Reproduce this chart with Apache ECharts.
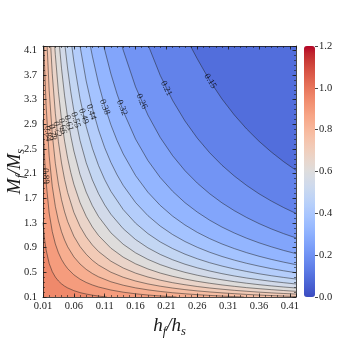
<!DOCTYPE html>
<html>
<head>
<meta charset="utf-8">
<script src="https://cdn.jsdelivr.net/npm/echarts@6/dist/echarts.min.js"></script>
<style>
  html, body { margin: 0; padding: 0; background: #fff; }
  #chart { width: 356px; height: 356px; }
</style>
</head>
<body>
<div id="chart"></div>
<script>
// contour levels (from the inline labels) and the value range at the low end
const levels = [0.15, 0.2071, 0.2642, 0.3213, 0.3784, 0.4355, 0.4926, 0.5497, 0.6068, 0.6639, 0.7210, 0.7781, 0.8352, 0.8923, 0.9494];
const zLow = 0.0929;
const labelTexts = ['0.15', '0.21', '0.26', '0.32', '0.38', '0.44', '0.49', '0.55', '0.61', '0.66', '0.72', '0.78', '0.84', '0.89'];

const xTickLabels = ['0.01', '0.06', '0.11', '0.16', '0.21', '0.26', '0.31', '0.36', '0.41'];
const yTickLabels = ['0.1', '0.5', '0.9', '1.3', '1.7', '2.1', '2.5', '2.9', '3.3', '3.7', '4.1'];
const cbarTickLabels = ['0.0', '0.2', '0.4', '0.6', '0.8', '1.0', '1.2'];

// contour lines, [h_f/h_s, M_f/M_s]
const c015 = [[0.249, 4.17], [0.26, 3.962], [0.28, 3.611], [0.30, 3.312], [0.32, 3.052], [0.34, 2.825], [0.36, 2.626], [0.38, 2.451], [0.40, 2.294], [0.42, 2.154]];
const c021 = [[0.181, 4.17], [0.20, 3.693], [0.22, 3.288], [0.24, 2.955], [0.26, 2.676], [0.28, 2.44], [0.30, 2.237], [0.32, 2.062], [0.34, 1.909], [0.36, 1.774], [0.38, 1.656], [0.40, 1.55], [0.42, 1.455]];
const c026 = [[0.138, 4.17], [0.14, 4.103], [0.16, 3.507], [0.18, 3.05], [0.20, 2.686], [0.22, 2.392], [0.24, 2.149], [0.26, 1.947], [0.28, 1.775], [0.30, 1.627], [0.32, 1.5], [0.34, 1.389], [0.36, 1.291], [0.38, 1.204], [0.40, 1.127], [0.42, 1.058]];
const c032 = [[0.1085, 4.17], [0.11, 4.108], [0.12, 3.719], [0.13, 3.391], [0.14, 3.112], [0.16, 2.66], [0.18, 2.313], [0.20, 2.037], [0.22, 1.814], [0.24, 1.63], [0.26, 1.477], [0.28, 1.346], [0.30, 1.234], [0.32, 1.138], [0.34, 1.053], [0.36, 0.979], [0.38, 0.914], [0.40, 0.855], [0.42, 0.803]];
const c038 = [[0.0867, 4.17], [0.09, 4.006], [0.10, 3.559], [0.11, 3.195], [0.12, 2.892], [0.13, 2.637], [0.14, 2.42], [0.16, 2.069], [0.18, 1.799], [0.20, 1.585], [0.22, 1.411], [0.24, 1.268], [0.26, 1.148], [0.28, 1.047], [0.30, 0.96], [0.32, 0.885], [0.34, 0.819], [0.36, 0.761], [0.38, 0.71], [0.40, 0.665], [0.42, 0.624]];
const c044 = [[0.07, 4.17], [0.08, 3.603], [0.09, 3.16], [0.10, 2.808], [0.11, 2.52], [0.12, 2.282], [0.13, 2.081], [0.14, 1.909], [0.16, 1.632], [0.18, 1.419], [0.20, 1.25], [0.22, 1.113], [0.24, 1.0], [0.26, 0.906], [0.28, 0.826], [0.30, 0.757], [0.32, 0.698], [0.34, 0.646], [0.36, 0.601], [0.38, 0.56], [0.40, 0.525], [0.42, 0.493]];
const c049 = [[0.0567, 4.17], [0.06, 3.924], [0.07, 3.317], [0.08, 2.863], [0.09, 2.512], [0.10, 2.231], [0.11, 2.003], [0.12, 1.813], [0.14, 1.517], [0.16, 1.297], [0.18, 1.128], [0.20, 0.993], [0.22, 0.885], [0.24, 0.795], [0.26, 0.72], [0.28, 0.656], [0.30, 0.602], [0.32, 0.555], [0.34, 0.514], [0.36, 0.477], [0.38, 0.445], [0.40, 0.417], [0.42, 0.391]];
const c055 = [[0.0457, 4.17], [0.05, 3.798], [0.055, 3.428], [0.06, 3.121], [0.07, 2.638], [0.08, 2.277], [0.09, 1.998], [0.10, 1.775], [0.11, 1.593], [0.12, 1.442], [0.14, 1.207], [0.16, 1.032], [0.18, 0.897], [0.20, 0.79], [0.22, 0.704], [0.24, 0.632], [0.26, 0.573], [0.28, 0.522], [0.30, 0.479], [0.32, 0.441], [0.34, 0.408], [0.36, 0.38], [0.38, 0.354], [0.40, 0.332], [0.42, 0.311]];
const c061 = [[0.0367, 4.17], [0.04, 3.81], [0.045, 3.362], [0.05, 3.004], [0.055, 2.712], [0.06, 2.468], [0.07, 2.087], [0.08, 1.801], [0.09, 1.58], [0.10, 1.404], [0.12, 1.141], [0.14, 0.955], [0.16, 0.816], [0.18, 0.71], [0.20, 0.625], [0.22, 0.557], [0.24, 0.5], [0.26, 0.453], [0.28, 0.413], [0.30, 0.379], [0.32, 0.349], [0.34, 0.323], [0.36, 0.3], [0.38, 0.28], [0.40, 0.262], [0.42, 0.246]];
const c066 = [[0.029, 4.17], [0.03, 4.029], [0.035, 3.428], [0.04, 2.977], [0.045, 2.627], [0.05, 2.347], [0.055, 2.119], [0.06, 1.929], [0.07, 1.631], [0.08, 1.408], [0.09, 1.235], [0.10, 1.097], [0.12, 0.892], [0.14, 0.746], [0.16, 0.638], [0.18, 0.555], [0.20, 0.488], [0.22, 0.435], [0.24, 0.391], [0.26, 0.354], [0.28, 0.323], [0.30, 0.296], [0.32, 0.273], [0.34, 0.252], [0.36, 0.235], [0.38, 0.219], [0.40, 0.205], [0.42, 0.192]];
const c072 = [[0.0225, 4.17], [0.025, 3.721], [0.03, 3.078], [0.035, 2.618], [0.04, 2.274], [0.045, 2.007], [0.05, 1.793], [0.06, 1.473], [0.07, 1.245], [0.08, 1.075], [0.09, 0.943], [0.10, 0.838], [0.12, 0.681], [0.14, 0.57], [0.16, 0.487], [0.18, 0.424], [0.20, 0.373], [0.22, 0.332], [0.24, 0.299], [0.26, 0.27], [0.28, 0.246], [0.30, 0.226], [0.32, 0.208], [0.34, 0.193], [0.36, 0.179], [0.38, 0.167], [0.40, 0.157], [0.42, 0.147]];
const c078 = [[0.0167, 4.17], [0.02, 3.454], [0.025, 2.743], [0.03, 2.269], [0.035, 1.931], [0.04, 1.677], [0.045, 1.48], [0.05, 1.322], [0.06, 1.086], [0.07, 0.918], [0.08, 0.793], [0.09, 0.695], [0.10, 0.618], [0.12, 0.502], [0.14, 0.42], [0.16, 0.359], [0.18, 0.312], [0.20, 0.275], [0.22, 0.245], [0.24, 0.22], [0.26, 0.199], [0.28, 0.182], [0.30, 0.167], [0.32, 0.154], [0.34, 0.142], [0.36, 0.132], [0.38, 0.123], [0.40, 0.115], [0.42, 0.108]];
const c084 = [[0.0116, 4.17], [0.0125, 3.867], [0.015, 3.21], [0.02, 2.389], [0.025, 1.897], [0.03, 1.569], [0.035, 1.335], [0.04, 1.159], [0.045, 1.023], [0.05, 0.914], [0.06, 0.751], [0.07, 0.635], [0.08, 0.548], [0.09, 0.481], [0.10, 0.427], [0.12, 0.347], [0.14, 0.291], [0.16, 0.248], [0.18, 0.216], [0.20, 0.19], [0.22, 0.169], [0.24, 0.152], [0.26, 0.138], [0.28, 0.126], [0.30, 0.115], [0.32, 0.106], [0.3355, 0.1]];
const c089 = [[0.01, 2.972], [0.0125, 2.369], [0.015, 1.966], [0.02, 1.463], [0.025, 1.162], [0.03, 0.961], [0.035, 0.818], [0.04, 0.71], [0.045, 0.627], [0.05, 0.56], [0.06, 0.46], [0.07, 0.389], [0.08, 0.336], [0.09, 0.295], [0.10, 0.262], [0.12, 0.213], [0.14, 0.178], [0.16, 0.152], [0.18, 0.132], [0.20, 0.117], [0.22, 0.104], [0.2265, 0.1]];
const c095 = [[0.01, 1.309], [0.0125, 1.043], [0.015, 0.866], [0.02, 0.644], [0.025, 0.512], [0.03, 0.423], [0.035, 0.36], [0.04, 0.313], [0.045, 0.276], [0.05, 0.247], [0.06, 0.203], [0.07, 0.171], [0.08, 0.148], [0.09, 0.13], [0.10, 0.115], [0.1135, 0.1]];

const contours = [c015, c021, c026, c032, c038, c044, c049, c055, c061, c066, c072, c078, c084, c089, c095];

// matplotlib "coolwarm"
const coolwarm = ['#3b4cc0', '#445acc', '#4d68d7', '#5775e1', '#6282ea', '#6c8ef1', '#779af7', '#82a5fb', '#8db0fe', '#98b9ff', '#a3c2ff', '#aec9fd', '#b8d0f9', '#c2d5f4', '#ccd9ee', '#d5dbe6', '#dddddd', '#e5d8d1', '#ecd3c5', '#f1ccb9', '#f5c4ad', '#f7bba0', '#f7b194', '#f7a687', '#f49a7b', '#f18d6f', '#ec7f63', '#e57058', '#de604d', '#d55042', '#cb3e38', '#c0282f', '#b40426'];

const X0 = 0.01, X1 = 0.42, Y0 = 0.1, Y1 = 4.17;
const font = "'Liberation Serif', 'Times New Roman', serif";
const ink = '#1a1a1a';

// band i lies above levels[i]; band -1 is everything below the first level.
// each band is coloured by its lower bound
const bands = [[-1, zLow]].concat(levels.map((v, i) => [i, v]));

// where the inline labels sit on their lines
const labelAnchors = [
  [0.281, 3.60, -58], [0.21, 3.48, -64], [0.17, 3.27, -66], [0.138, 3.17, -68], [0.11, 3.18, -70],
  [0.088, 3.10, -72], [0.076, 3.03, -72], [0.063, 2.97, -74], [0.0515, 2.92, -76], [0.0415, 2.87, -78],
  [0.033, 2.82, -80], [0.0248, 2.77, -82], [0.0178, 2.75, -86], [0.0144, 2.06, -88]
];

function tickFmt (start, step, labels) {
  return function (v) {
    const k = Math.round((v - start) / step);
    if (Math.abs(v - (start + k * step)) > 1e-6) return '';
    return labels[k] !== undefined ? labels[k] : '';
  };
}

const frameLine = { show: true, onZero: false, lineStyle: { color: ink, width: 0.8 } };
const noLine = { show: false, onZero: false };
const majorTick = { show: true, inside: true, length: 3.5, lineStyle: { color: ink, width: 0.8 } };
const minorTick = { show: true, inside: true, length: 2, lineStyle: { color: ink, width: 0.6 } };

function axis (o) {
  return Object.assign({
    type: 'value', gridIndex: 0, z: 5,
    axisLine: noLine, axisTick: majorTick,
    axisLabel: { show: false }, splitLine: { show: false }
  }, o);
}

const mathRich = {
  i: { fontFamily: font, fontStyle: 'italic', fontSize: 19, color: ink, lineHeight: 24, verticalAlign: 'middle' },
  s: { fontFamily: font, fontStyle: 'italic', fontSize: 12.5, color: ink, verticalAlign: 'bottom' }
};

const chart = echarts.init(document.getElementById('chart'));

const series = [{
  type: 'custom',
  xAxisIndex: 0,
  yAxisIndex: 0,
  data: bands,
  clip: true,
  silent: true,
  z: 1,
  renderItem: function (params, api) {
    const idx = api.value(0);
    let pts;
    if (idx < 0) {
      pts = [[X0, Y1], [X1, Y1], [X1, Y0], [X0, Y0]];
    } else {
      pts = contours[idx].concat([[X1, Y0], [X0, Y0], [X0, Y1]]);
    }
    return {
      type: 'polygon',
      shape: { points: pts.map(p => api.coord(p)) },
      style: { fill: api.visual('color') }
    };
  }
}];

contours.forEach(function (c) {
  series.push({
    type: 'line',
    data: c,
    showSymbol: false,
    symbol: 'none',
    silent: true,
    clip: true,
    z: 3,
    lineStyle: { color: '#222', width: 0.6, opacity: 0.85 }
  });
});

series.push({
  type: 'scatter',
  silent: true,
  z: 4,
  symbolSize: 1,
  itemStyle: { color: 'rgba(0,0,0,0)' },
  label: { show: true, position: 'inside', fontSize: 9, fontFamily: font, color: '#000' },
  data: labelAnchors.map(function (a, i) {
    return { value: [a[0], a[1]], label: { rotate: a[2], formatter: labelTexts[i] } };
  })
});

chart.setOption({
  animation: false,
  backgroundColor: '#fff',
  grid: [
    { left: 43, top: 46, width: 253, height: 251, containLabel: false, outerBoundsMode: 'none' },
    { left: 304, top: 46, width: 11, height: 251, containLabel: false, outerBoundsMode: 'none' }
  ],
  visualMap: {
    type: 'continuous',
    min: 0,
    max: 1.2,
    dimension: 1,
    seriesIndex: 0,
    calculable: false,
    hoverLink: false,
    inRange: { color: coolwarm },
    left: 304,
    top: 46,
    padding: 0,
    itemWidth: 11,
    itemHeight: 251
  },
  xAxis: [
    axis({
      position: 'bottom', min: X0, max: X1, interval: 0.05,
      axisLine: frameLine,
      axisLabel: { show: true, margin: 4, fontSize: 10.5, fontFamily: font, color: ink, formatter: tickFmt(0.01, 0.05, xTickLabels) },
      name: '{i|h}{s|f}{i|/h}{s|s}',
      nameLocation: 'middle',
      nameGap: 17,
      nameMoveOverlap: false,
      nameTextStyle: { rich: mathRich }
    }),
    axis({ position: 'bottom', min: X0, max: X1, interval: 0.01, axisTick: minorTick }),
    axis({ position: 'top', min: X0, max: X1, interval: 0.05, axisLine: frameLine }),
    axis({ position: 'top', min: X0, max: X1, interval: 0.01, axisTick: minorTick }),
    { type: 'value', gridIndex: 1, show: false, min: 0, max: 1 }
  ],
  yAxis: [
    axis({
      position: 'left', min: Y0, max: Y1, interval: 0.4,
      axisLine: frameLine,
      axisLabel: { show: true, margin: 6, fontSize: 10.5, fontFamily: font, color: ink, formatter: tickFmt(0.1, 0.4, yTickLabels) },
      name: '{i|M}{s|f}{i|/M}{s|s}',
      nameLocation: 'middle',
      nameRotate: 90,
      nameGap: 16,
      nameMoveOverlap: false,
      nameTextStyle: { rich: mathRich }
    }),
    axis({ position: 'left', min: Y0, max: Y1, interval: 0.08, axisTick: minorTick }),
    axis({ position: 'right', min: Y0, max: Y1, interval: 0.4, axisLine: frameLine }),
    axis({ position: 'right', min: Y0, max: Y1, interval: 0.08, axisTick: minorTick }),
    {
      type: 'value', gridIndex: 1, position: 'right', min: 0, max: 1.2, interval: 0.2, z: 5,
      axisLine: { show: false, onZero: false },
      axisTick: { show: true, inside: false, length: 3, lineStyle: { color: ink, width: 0.8 } },
      axisLabel: { show: true, margin: 4, fontSize: 10.5, fontFamily: font, color: ink, formatter: tickFmt(0, 0.2, cbarTickLabels) },
      splitLine: { show: false }
    }
  ],
  series: series
});
</script>
</body>
</html>
